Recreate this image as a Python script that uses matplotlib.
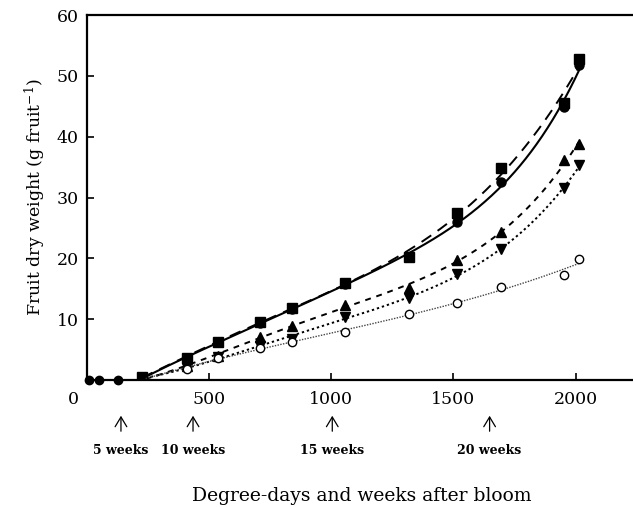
import numpy as np
import matplotlib
matplotlib.use("Agg")
import matplotlib.pyplot as plt
from matplotlib.transforms import ScaledTranslation

plt.rcParams['font.family'] = ['DejaVu Serif']
plt.rcParams['mathtext.fontset'] = 'dejavuserif'

# ---- data (degree-days after bloom, fruit dry weight g/fruit) ----
x_zero = [10, 50, 125]
y_zero = [0, 0, 0]

x_full = [225, 408, 535, 707, 838, 1055, 1320, 1516, 1696, 1953, 2015]
filled_circle = [0.3, 3.5, 6.2, 9.4, 11.6, 15.8, 20.2, 26.0, 32.5, 44.8, 51.8]
filled_square = [0.5, 3.6, 6.3, 9.6, 11.8, 16.0, 20.3, 27.4, 34.8, 45.5, 52.8]

x_late = [408, 535, 707, 838, 1055, 1320, 1516, 1696, 1953, 2015]
triangle_up = [2.3, 4.0, 7.1, 8.9, 12.3, 15.2, 19.7, 24.3, 36.1, 38.8]
triangle_down = [1.9, 3.8, 5.6, 6.7, 10.4, 13.5, 17.4, 21.5, 31.5, 35.3]
open_circle = [1.8, 3.6, 5.2, 6.3, 7.9, 10.8, 12.6, 15.3, 17.2, 19.9]

week_labels = ["5 weeks", "10 weeks", "15 weeks", "20 weeks"]
week_dd = [139, 434, 1004, 1648]

x_ticks = [0, 500, 1000, 1500, 2000]
y_ticks = [10, 20, 30, 40, 50, 60]


W, H = 633, 507
fig = plt.figure(figsize=(W/100, H/100), dpi=100)
ax = fig.add_axes([87/W, 1 - 380/H, 546/W, 365/H])


def fitted(xs, ys, deg, x0=None, y0=None):
    xs = list(xs); ys = list(ys)
    if x0 is not None:
        xs = [x0] + xs; ys = [y0] + ys
    xs = np.asarray(xs, float); ys = np.asarray(ys, float)
    u = (xs - 1100) / 1000
    c = np.polyfit(u, ys, deg)
    xn = np.linspace(xs[0], xs[-1], 400)
    return xn, np.polyval(c, (xn - 1100) / 1000)

# filled circle - solid
xn, yn = fitted(x_full, filled_circle, 5)
ax.plot(xn, yn, color='black', lw=1.5, ls='-')
ax.plot(x_full, filled_circle, 'o', color='black', ms=6.5)
ax.plot(x_zero, y_zero, 'o', color='black', ms=6, clip_on=False)

# filled squares - long dashed
xn, yn = fitted(x_full, filled_square, 5)
ax.plot(xn, yn, color='black', lw=1.4, dashes=(6, 4))
ax.plot(x_full, filled_square, 's', color='black', ms=6.5)

# triangle up - dashed
xn, yn = fitted(x_late, triangle_up, 4, 240, 0.3)
ax.plot(xn, yn, color='black', lw=1.4, dashes=(3, 3))
ax.plot(x_late, triangle_up, '^', color='black', ms=7)

# triangle down - dotted
xn, yn = fitted(x_late, triangle_down, 4, 240, 0.3)
ax.plot(xn, yn, color='black', lw=1.4, dashes=(1.2, 1.5))
ax.plot(x_late, triangle_down, 'v', color='black', ms=7)

# open circle - fine dotted
xn, yn = fitted(x_late, open_circle, 3, 240, 0.3)
ax.plot(xn, yn, color='#444444', lw=1.0, dashes=(1, 1))
ax.plot(x_late, open_circle, 'o', mfc='white', mec='black', mew=1.0, ms=6)

ax.set_xlim(0, 2235)
ax.set_ylim(0, 60)
ax.set_xticks(x_ticks)
ax.set_xticklabels([str(v) for v in x_ticks])
ax.set_yticks(y_ticks)
ax.set_yticklabels([str(v) for v in y_ticks])
ax.tick_params(direction='in', length=5, width=1.2, labelsize=12.5, pad=6)
ax.tick_params(axis='x', pad=8)
ax.spines['right'].set_visible(False)
for s in ['left', 'bottom', 'top']:
    ax.spines[s].set_linewidth(1.6)

lbl0 = ax.get_xticklabels()[0]
lbl0.set_transform(lbl0.get_transform() + ScaledTranslation(-14/100, 0, fig.dpi_scale_trans))
ax.xaxis.get_major_ticks()[0].tick1line.set_visible(False)

ax.set_ylabel('Fruit dry weight (g fruit$^{-1}$)', fontsize=12.5, labelpad=6)

for lab, xv in zip(week_labels, week_dd):
    ax.annotate('', xy=(xv, H - 413), xytext=(xv, H - 434),
                xycoords=('data', 'figure pixels'), textcoords=('data', 'figure pixels'),
                arrowprops=dict(arrowstyle='->,head_length=0.5,head_width=0.3', lw=0.9,
                                color='black', mutation_scale=14), annotation_clip=False)
    ax.annotate(lab, xy=(xv, H - 451), xycoords=('data', 'figure pixels'),
                ha='center', va='center', fontsize=9, fontweight='bold',
                annotation_clip=False)

fig.text(362/W, 1 - 496/H, 'Degree-days and weeks after bloom',
         ha='center', va='center', fontsize=13.5)

fig.savefig('out.png', dpi=100)
